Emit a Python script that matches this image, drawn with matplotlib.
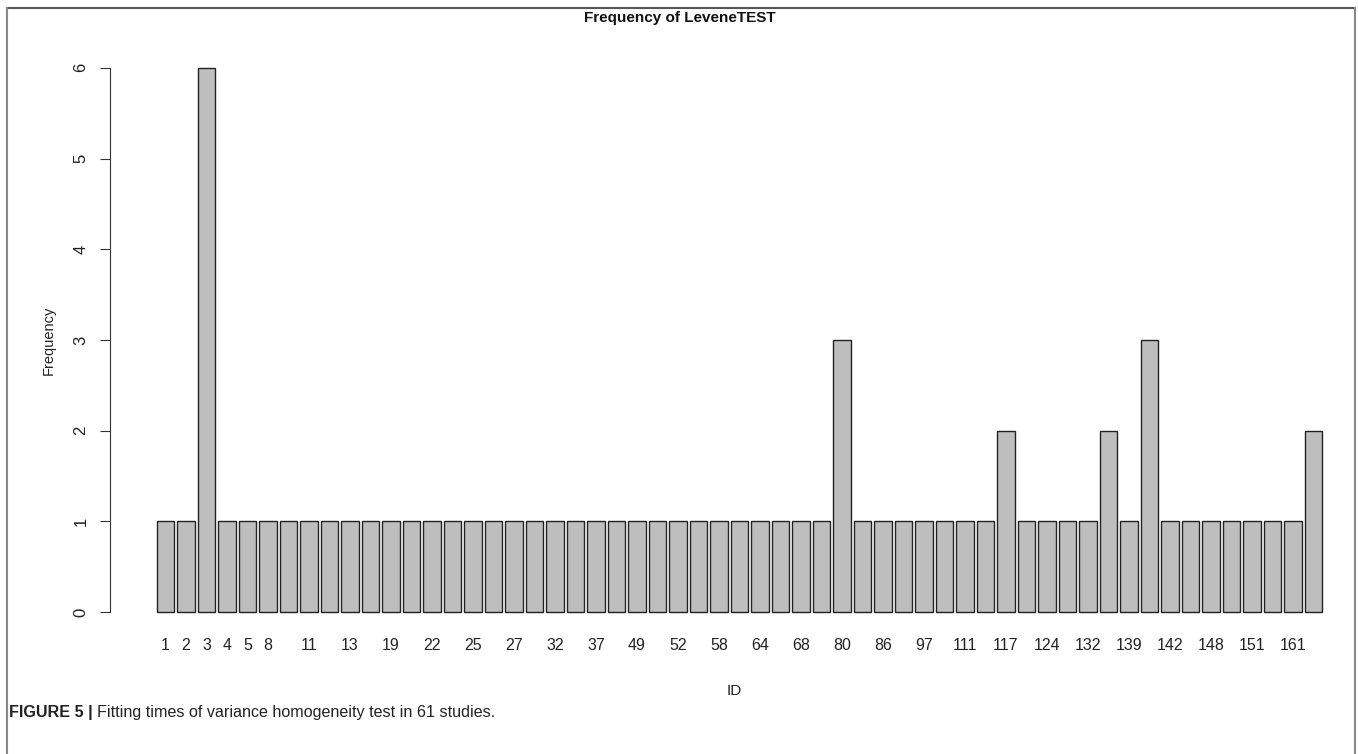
import matplotlib.pyplot as plt
from matplotlib.lines import Line2D

# study IDs (sorted) and how many times the Levene test was fitted in each
ids = [1, 2, 3, 4, 5, 8, 10, 11, 12, 13, 16, 19, 20, 22, 23, 25, 26, 27, 30,
       32, 35, 37, 42, 49, 50, 52, 55, 58, 60, 64, 66, 68, 75, 80, 83, 86, 90,
       97, 105, 111, 114, 117, 120, 124, 128, 132, 135, 139, 140, 142, 145,
       148, 150, 151, 155, 161, 165]
freq = [1, 1, 6, 1, 1, 1, 1, 1, 1, 1, 1, 1, 1, 1, 1, 1, 1, 1, 1,
        1, 1, 1, 1, 1, 1, 1, 1, 1, 1, 1, 1, 1, 1, 3, 1, 1, 1,
        1, 1, 1, 1, 2, 1, 1, 1, 1, 2, 1, 3, 1, 1,
        1, 1, 1, 1, 1, 2]
y_ticks = [0, 1, 2, 3, 4, 5, 6]

plt.rcParams['font.family'] = ['Liberation Sans', 'DejaVu Sans']

W, H = 1358, 754
fig = plt.figure(figsize=(W / 100, H / 100), dpi=100)

# plot region in pixels (R barplot layout)
left_px, right_px = 110, 1358
top_px, bot_px = 46, 634
ax = fig.add_axes([left_px / W, 1 - bot_px / H,
                   (right_px - left_px) / W, (bot_px - top_px) / H])

pitch = 20.5
first_center = 165.5
x = list(range(len(ids)))
ax.bar(x, freq, width=17.1 / pitch, color='#bebebe', edgecolor='#222222',
       linewidth=1.0)

ax.set_xlim((left_px - first_center) / pitch, (right_px - first_center) / pitch)
ax.set_ylim(-0.24, 6.24)

for s in ['top', 'right', 'bottom']:
    ax.spines[s].set_visible(False)
ax.spines['left'].set_bounds(0, 6)
ax.spines['left'].set_color('#333333')

ax.set_yticks(y_ticks)
ax.set_yticklabels([str(v) for v in y_ticks], rotation=90, va='center',
                   fontsize=12, color='#222222')
ax.tick_params(axis='y', length=7, pad=8.5, color='#333333')

ax.set_xticks(x)
ax.set_xticklabels([str(v) for v in ids], fontsize=11.5, color='#222222')
ax.tick_params(axis='x', length=0, pad=3)
# labels that would overlap are dropped, as R does
for i, lab in enumerate(ax.get_xticklabels()):
    if i >= 6 and i % 2 == 0:
        lab.set_visible(False)

ax.set_xlabel('ID', fontsize=11, color='#222222', labelpad=22)
ax.set_ylabel('Frequency', fontsize=10.5, color='#222222', labelpad=13)
fig.text(680 / W, 1 - 18 / H, 'Frequency of LeveneTEST', ha='center',
         va='center', fontsize=11, fontweight='bold', color='#111111')

# outer frame
fig.add_artist(Line2D([7 / W, 1355 / W], [1 - 8 / H, 1 - 8 / H],
                      transform=fig.transFigure, color='#555555', lw=1.5))
fig.add_artist(Line2D([7 / W, 7 / W], [1 - 8 / H, 0],
                      transform=fig.transFigure, color='#888888', lw=1.5))
fig.add_artist(Line2D([1355 / W, 1355 / W], [1 - 8 / H, 0],
                      transform=fig.transFigure, color='#888888', lw=1.5))

# caption
t = fig.text(9 / W, 1 - 712 / H, 'FIGURE 5 |', ha='left', va='center',
             fontsize=11.6, fontweight='bold', color='#222222')
fig.canvas.draw()
bb = t.get_window_extent()
fig.text((bb.x1 + 4) / W, 1 - 712 / H,
         'Fitting times of variance homogeneity test in 61 studies.',
         ha='left', va='center', fontsize=11.6, color='#222222')

fig.savefig('out.png', dpi=100)
